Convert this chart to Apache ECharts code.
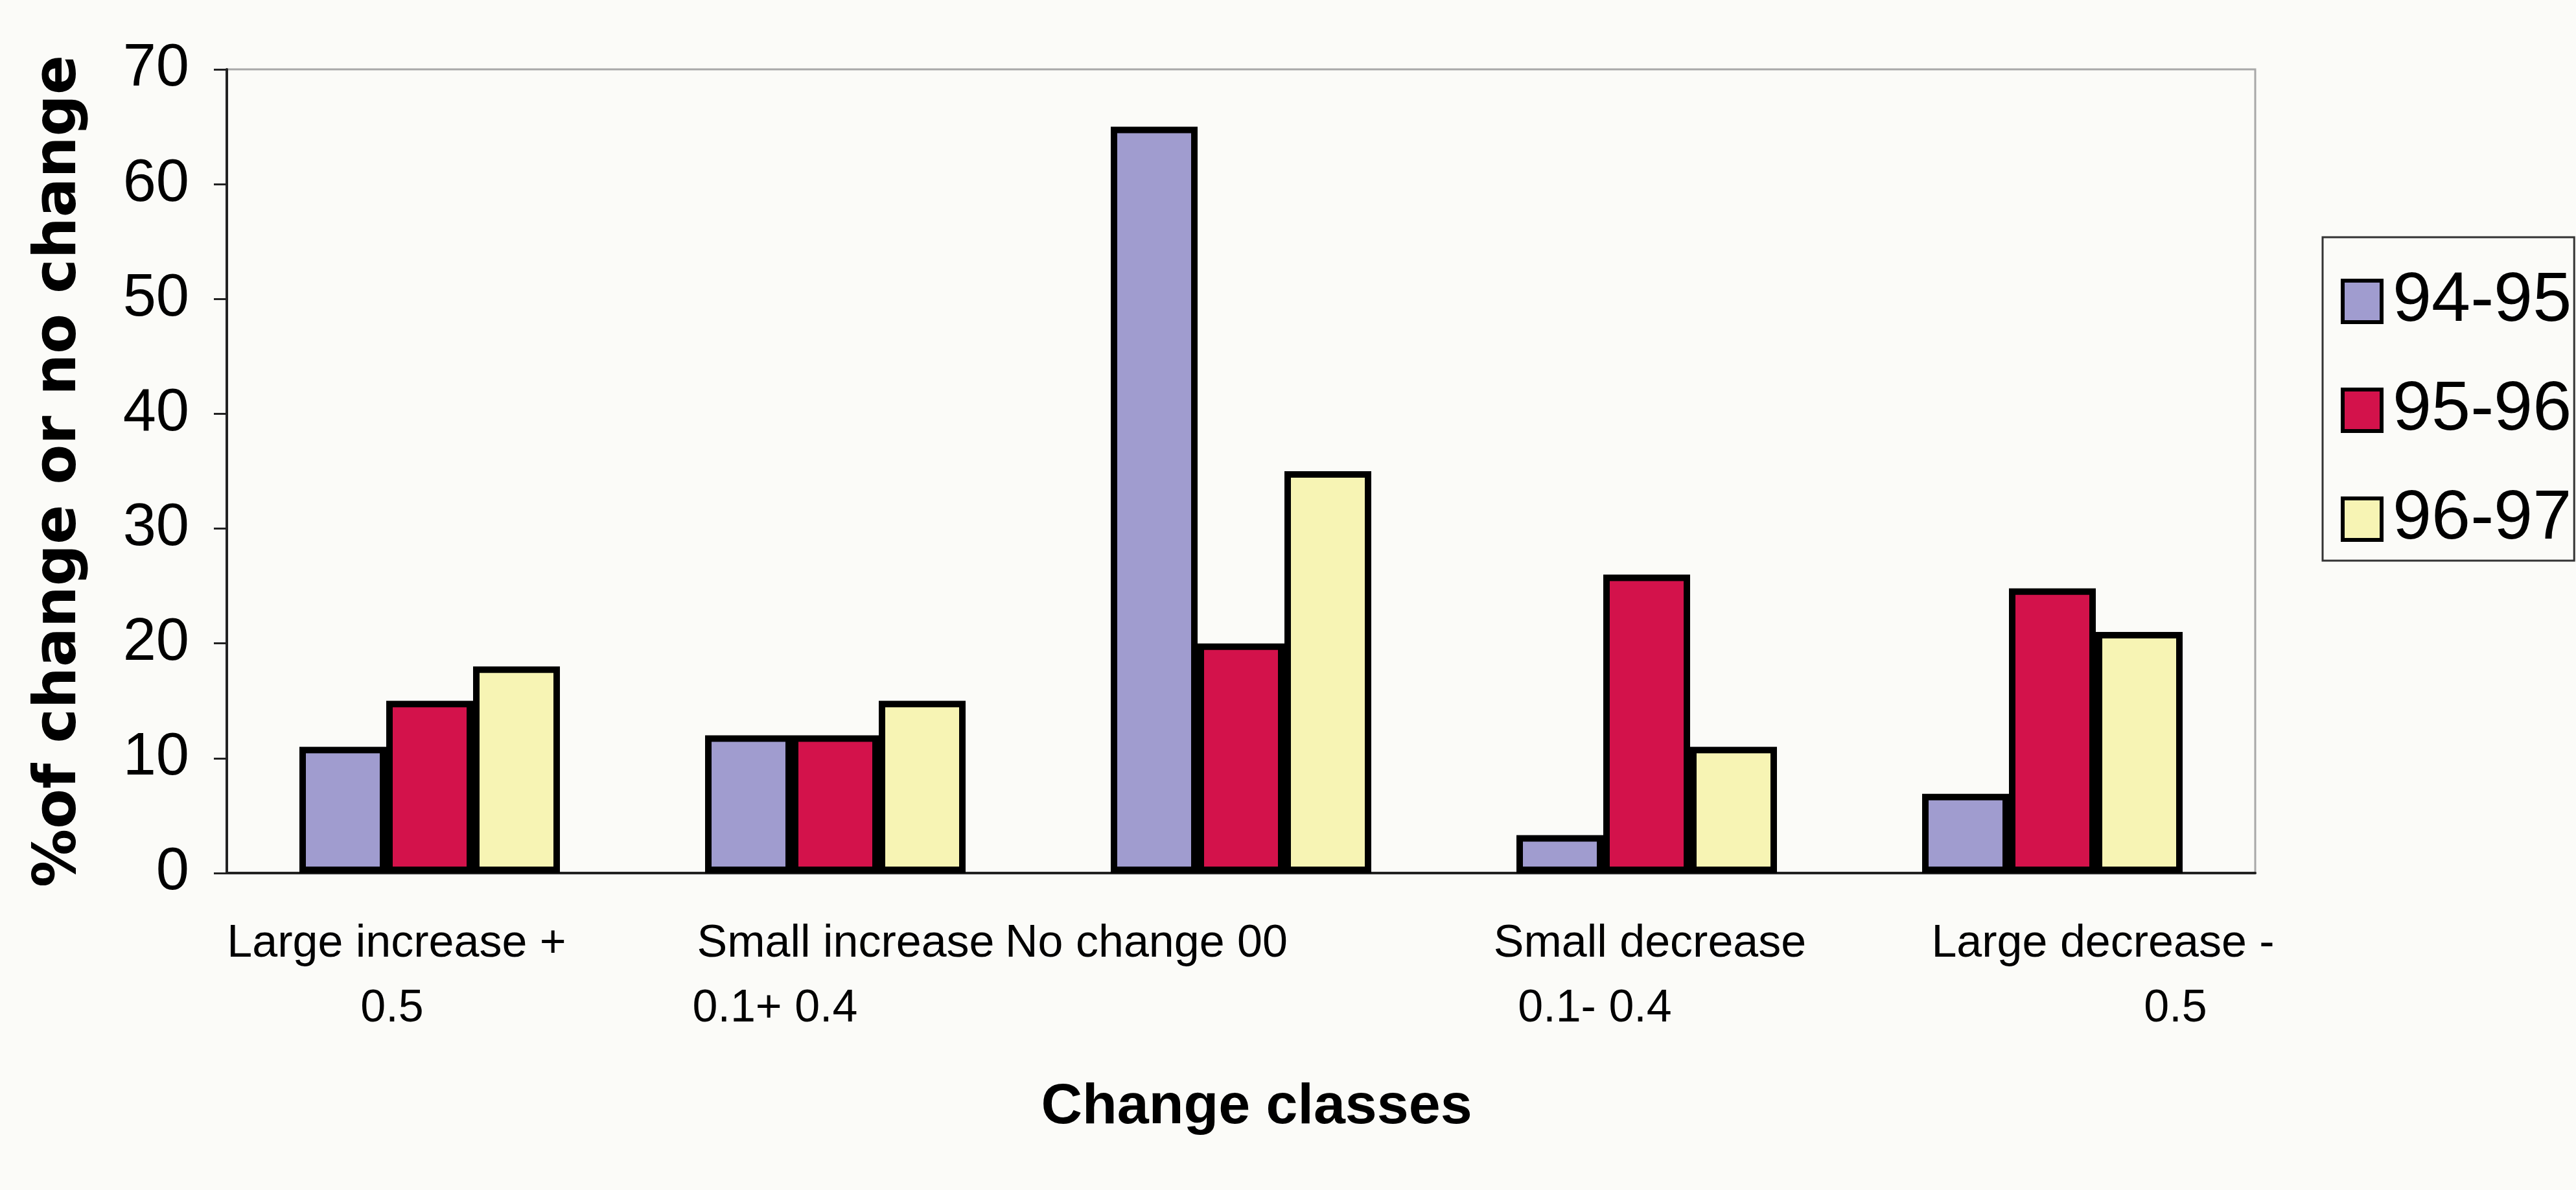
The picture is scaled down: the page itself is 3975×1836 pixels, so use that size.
<!DOCTYPE html>
<html>
<head>
<meta charset="utf-8">
<title>Change classes</title>
<script src="https://cdn.jsdelivr.net/npm/echarts@6.0.0/dist/echarts.min.js"></script>
<style>
  html, body { margin: 0; padding: 0; background: #fbfbf8; }
  #chart { width: 3975px; height: 1836px; }
</style>
</head>
<body>
<div id="chart"></div>
<script>
// categories, split into the two lines shown under the axis
var classTop = ['Large increase +', 'Small increase', 'No change 00', 'Small decrease', 'Large decrease -'];
var classBottom = ['0.5', '0.1+ 0.4', '', '0.1- 0.4', '0.5'];

var seriesNames = ['94-95', '95-96', '96-97'];
var y9495 = [11, 12, 65, 3.3, 6.9];
var y9596 = [15, 12, 20, 26, 24.8];
var y9697 = [18, 15, 35, 11, 21];

var yTicks = [0, 10, 20, 30, 40, 50, 60, 70];

// label line offsets (px) from the category centre, as drawn in the original
var topShift = [-51, 16, -146, 5, 78];
var bottomShift = [-58, -93, 0, -80, 190];

var colors = ['#a09ccf', '#d3124b', '#f7f4b4'];
var sans = '"Liberation Sans", Arial, sans-serif';

var rich = {};
for (let i = 0; i < classTop.length; i++) {
    var s1 = topShift[i], s2 = bottomShift[i];
    rich['t' + i] = {
        fontSize: 70, fontFamily: sans, color: '#000', lineHeight: 100,
        padding: [0, s1 < 0 ? -2 * s1 : 0, 0, s1 > 0 ? 2 * s1 : 0]
    };
    rich['b' + i] = {
        fontSize: 70, fontFamily: sans, color: '#000', lineHeight: 100,
        padding: [0, s2 < 0 ? -2 * s2 : 0, 0, s2 > 0 ? 2 * s2 : 0]
    };
}

var values = [y9495, y9596, y9697];
var series = [];
for (let i = 0; i < seriesNames.length; i++) {
    series.push({
        name: seriesNames[i],
        type: 'bar',
        barWidth: 134,
        barGap: '0%',
        itemStyle: { color: colors[i], borderColor: '#000', borderWidth: 10 },
        data: values[i]
    });
}

var chart = echarts.init(document.getElementById('chart'));
var option = {
    backgroundColor: '#fbfbf8',
    animation: false,
    grid: {
        left: 350, right: 495, top: 107, bottom: 489,
        show: true, borderColor: '#a8a8a8', borderWidth: 3
    },
    legend: {
        orient: 'vertical',
        left: 3584, top: 366,
        padding: [44, 4, 9, 28],
        borderColor: '#333', borderWidth: 3,
        backgroundColor: '#fbfbf8',
        icon: 'rect',
        itemWidth: 60, itemHeight: 64,
        itemGap: 58,
        itemStyle: { borderColor: '#000', borderWidth: 6 },
        textStyle: { fontSize: 108, fontFamily: sans, color: '#000', lineHeight: 110, padding: [0, 0, 0, 12] },
        data: seriesNames
    },
    xAxis: {
        type: 'category',
        data: classTop,
        name: 'Change classes',
        nameLocation: 'middle',
        nameGap: 318,
        nameTextStyle: {
            fontSize: 88, fontWeight: 'bold', color: '#000',
            fontFamily: sans,
            padding: [0, 0, 0, 48]
        },
        axisLine: { lineStyle: { color: '#222', width: 4 } },
        axisTick: { length: 25, lineStyle: { color: '#222', width: 3 } },
        axisLabel: {
            interval: 0,
            margin: 60,
            rich: rich,
            formatter: function (value, index) {
                var txt = '{t' + index + '|' + classTop[index] + '}';
                if (classBottom[index]) {
                    txt += '\n{b' + index + '|' + classBottom[index] + '}';
                }
                return txt;
            }
        }
    },
    yAxis: {
        type: 'value',
        min: yTicks[0],
        max: yTicks[yTicks.length - 1],
        interval: 10,
        name: '%of change or no change',
        nameLocation: 'middle',
        nameRotate: 90,
        nameGap: 212,
        nameTextStyle: {
            fontSize: 90, fontWeight: 'bold', color: '#000',
            fontFamily: '"DejaVu Sans", sans-serif'
        },
        splitLine: { show: false },
        axisLine: { show: true, lineStyle: { color: '#222', width: 4 } },
        axisTick: { show: true, length: 20, lineStyle: { color: '#222', width: 3 } },
        axisLabel: { fontSize: 92, fontFamily: sans, color: '#000', margin: 58 }
    },
    series: series
};
chart.setOption(option);
</script>
</body>
</html>
